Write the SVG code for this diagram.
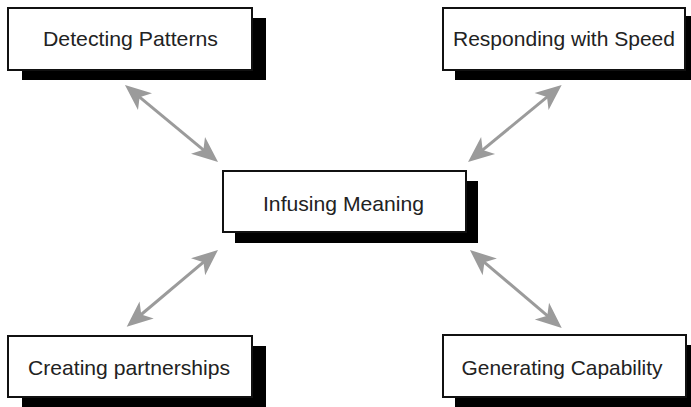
<svg xmlns="http://www.w3.org/2000/svg" width="691" height="407" viewBox="0 0 691 407">
<style>
.shadow{fill:#000}
.box{fill:#fff;stroke:#111;stroke-width:2}
.lbl{font-family:"Liberation Sans",Arial,sans-serif;font-size:21px;fill:#222;text-anchor:middle}
.conn{stroke:#9b9b9b;stroke-width:3;fill:none;marker-start:url(#ah);marker-end:url(#ah)}
</style>
<defs>
<marker id="ah" markerUnits="userSpaceOnUse" markerWidth="40" markerHeight="40" viewBox="-20 -20 40 40" refX="0" refY="0" orient="auto-start-reverse">
<path d="M12,0 L-14,-11 L-7,0 L-14,11 Z" fill="#9b9b9b"/>
</marker>
</defs>
<rect width="691" height="407" fill="#fff"/>
<g id="connectors">
<line class="conn" x1="134.2" y1="92.7" x2="208.8" y2="154.3"/>
<line class="conn" x1="552.4" y1="92.6" x2="477.3" y2="154.4"/>
<line class="conn" x1="208.8" y1="257.7" x2="135.9" y2="319.0"/>
<line class="conn" x1="479.1" y1="257.8" x2="552.6" y2="320.2"/>
</g>
<g id="detecting">
<rect class="shadow" x="22" y="18" width="244" height="62"/>
<rect class="box" x="8" y="8" width="244" height="62"/>
<text class="lbl" x="130.5" y="46" textLength="175" lengthAdjust="spacingAndGlyphs">Detecting Patterns</text>
</g>
<g id="responding">
<rect class="shadow" x="455" y="16" width="242" height="64"/>
<rect class="box" x="443" y="8" width="242" height="62"/>
<text class="lbl" x="564" y="46" textLength="222" lengthAdjust="spacingAndGlyphs">Responding with Speed</text>
</g>
<g id="infusing">
<rect class="shadow" x="235" y="181" width="243" height="62"/>
<rect class="box" x="223" y="171" width="243" height="61"/>
<text class="lbl" x="343.5" y="211" textLength="161" lengthAdjust="spacingAndGlyphs">Infusing Meaning</text>
</g>
<g id="creating">
<rect class="shadow" x="22" y="346" width="244" height="61"/>
<rect class="box" x="8" y="336" width="244" height="61"/>
<text class="lbl" x="129" y="375" textLength="202" lengthAdjust="spacingAndGlyphs">Creating partnerships</text>
</g>
<g id="generating">
<rect class="shadow" x="455" y="345" width="243" height="62"/>
<rect class="box" x="443" y="335" width="243" height="62"/>
<text class="lbl" x="562" y="375" textLength="201" lengthAdjust="spacingAndGlyphs">Generating Capability</text>
</g>
</svg>
